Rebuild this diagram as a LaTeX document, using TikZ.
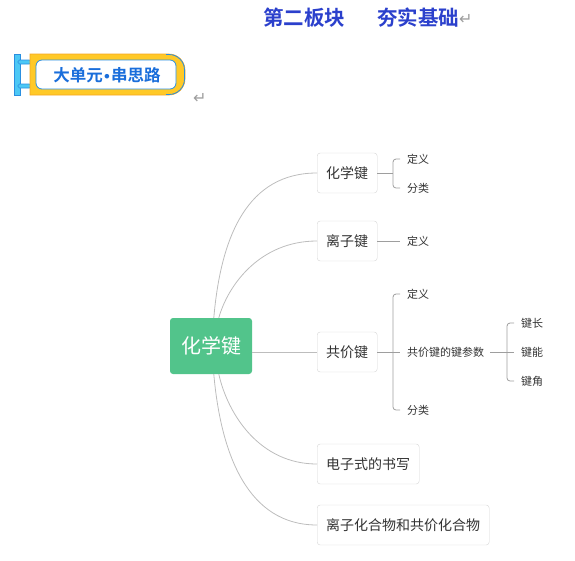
\documentclass[tikz,border=0pt]{standalone}
\usepackage{fontspec}
\newfontfamily\cjk{Noto Sans CJK SC}
\newfontfamily\cjkb{Noto Sans CJK SC Bold}
\newfontfamily\djv{DejaVu Sans}
\definecolor{titleblue}{HTML}{2B40CC}
\definecolor{bannerblue}{HTML}{1A6EDB}
\definecolor{barcyan}{HTML}{4CC8F5}
\definecolor{bardark}{HTML}{2A8FE0}
\definecolor{yel}{HTML}{FFC927}
\definecolor{yelline}{HTML}{F5A623}
\definecolor{greennode}{HTML}{52C48B}
\definecolor{nodeline}{HTML}{D6D6D6}
\definecolor{curvec}{HTML}{BDBDBD}
\definecolor{brkc}{HTML}{9E9E9E}
\definecolor{txt}{HTML}{333333}
\tikzset{
  child/.style={draw=nodeline, fill=white, rounded corners=3pt, minimum height=40pt,
    inner xsep=9pt, inner ysep=0pt, anchor=west, text=txt, font=\cjk\fontsize{14pt}{16pt}\selectfont},
  leaf/.style={anchor=west, inner sep=0pt, text=txt, font=\cjk\fontsize{11pt}{13pt}\selectfont},
  curve/.style={draw=curvec, line width=0.8pt},
  brk/.style={draw=brkc, line width=0.8pt, rounded corners=3pt},
  ret/.style={text=brkc, inner sep=0pt, font=\djv\fontsize{16pt}{17pt}\selectfont}
}
\begin{document}
\begin{tikzpicture}[x=1pt,y=-1pt]
\useasboundingbox (0,0) rectangle (575,560);
% title
\node[text=titleblue, inner sep=0pt, font=\cjkb\fontsize{20.5pt}{22pt}\selectfont] (t1) at (304,18) {第二板块};
\node[text=titleblue, inner sep=0pt, font=\cjkb\fontsize{20.5pt}{22pt}\selectfont] (t2) at (418,18) {夯实基础};
\node[ret, anchor=west] (r1) at (459,19) {↵};
% banner
\draw[bardark, fill=barcyan, line width=0.6pt] (14,54) rectangle (20,95);
\draw[bardark, fill=barcyan, line width=0.6pt, rounded corners=1.5pt] (18,60) rectangle (31,64);
\draw[bardark, fill=barcyan, line width=0.6pt, rounded corners=1.5pt] (18,84) rectangle (31,88);
\draw[yelline, fill=yel, line width=0.6pt] (30,54) -- (169,54) arc[start angle=-90, end angle=0, radius=16] -- (185,79) arc[start angle=0, end angle=90, radius=16] -- (30,95) -- cycle;
\draw[bardark, line width=0.8pt] (166,54.5) -- (169,54.5) arc[start angle=-90, end angle=0, radius=15.5] -- (184.5,79) arc[start angle=0, end angle=90, radius=15.5] -- (166,94.5);
\draw[bardark, fill=white, line width=0.8pt, rounded corners=6pt] (36,60) rectangle (176,89);
\node[text=bannerblue, inner sep=0pt, font=\cjkb\fontsize{16.5pt}{18pt}\selectfont] (bt) at (107,75) {大单元{\djv\bfseries\fontsize{13pt}{14pt}\selectfont •}串思路};
\node[ret, anchor=west] (r2) at (193,98) {↵};
% mind map
\node[fill=greennode, rounded corners=3pt, minimum width=82pt, minimum height=56pt, inner sep=0pt,
  text=white, font=\cjk\fontsize{20pt}{22pt}\selectfont] (c) at (211,346) {化学键};
\node[child] (n1) at (317,173) {化学键};
\node[child] (n2) at (317,241) {离子键};
\node[child] (n3) at (317,352) {共价键};
\node[child] (n4) at (317,464) {电子式的书写};
\node[child] (n5) at (317,525) {离子化合物和共价化合物};
\draw[curve] ([xshift=44pt]c.north west) .. controls (221,235) and (248,173) .. (n1.west);
\draw[curve] ([xshift=49pt]c.north west) .. controls (228,285) and (260,241) .. (n2.west);
\draw[curve] (c.east |- n3.west) -- (n3.west);
\draw[curve] ([xshift=49pt]c.south west) .. controls (228,415) and (260,464) .. (n4.west);
\draw[curve] ([xshift=44pt]c.south west) .. controls (221,455) and (248,525) .. (n5.west);
% leaves of 化学键
\node[leaf] (a1) at (407,159) {定义};
\node[leaf] (a2) at (407,188) {分类};
\draw[brk] (n1.east) -- (393,173);
\draw[brk] ([xshift=-7pt]a1.west) -- (393,159) -- (393,188) -- ([xshift=-7pt]a2.west);
% 离子键
\node[leaf] (b1) at (407,241) {定义};
\draw[brk] (n2.east) -- ([xshift=-7pt]b1.west);
% 共价键
\node[leaf] (d1) at (407,294) {定义};
\node[leaf] (d2) at (407,352) {共价键的键参数};
\node[leaf] (d3) at (407,410) {分类};
\draw[brk] (n3.east) -- ([xshift=-7pt]d2.west);
\draw[brk] ([xshift=-7pt]d1.west) -- (393,294) -- (393,410) -- ([xshift=-7pt]d3.west);
% 键参数
\node[leaf] (e1) at (521,323) {键长};
\node[leaf] (e2) at (521,352) {键能};
\node[leaf] (e3) at (521,381) {键角};
\draw[brk] ([xshift=6pt]d2.east) -- ([xshift=-7pt]e2.west);
\draw[brk] ([xshift=-7pt]e1.west) -- (507,323) -- (507,381) -- ([xshift=-7pt]e3.west);
\end{tikzpicture}
\end{document}
